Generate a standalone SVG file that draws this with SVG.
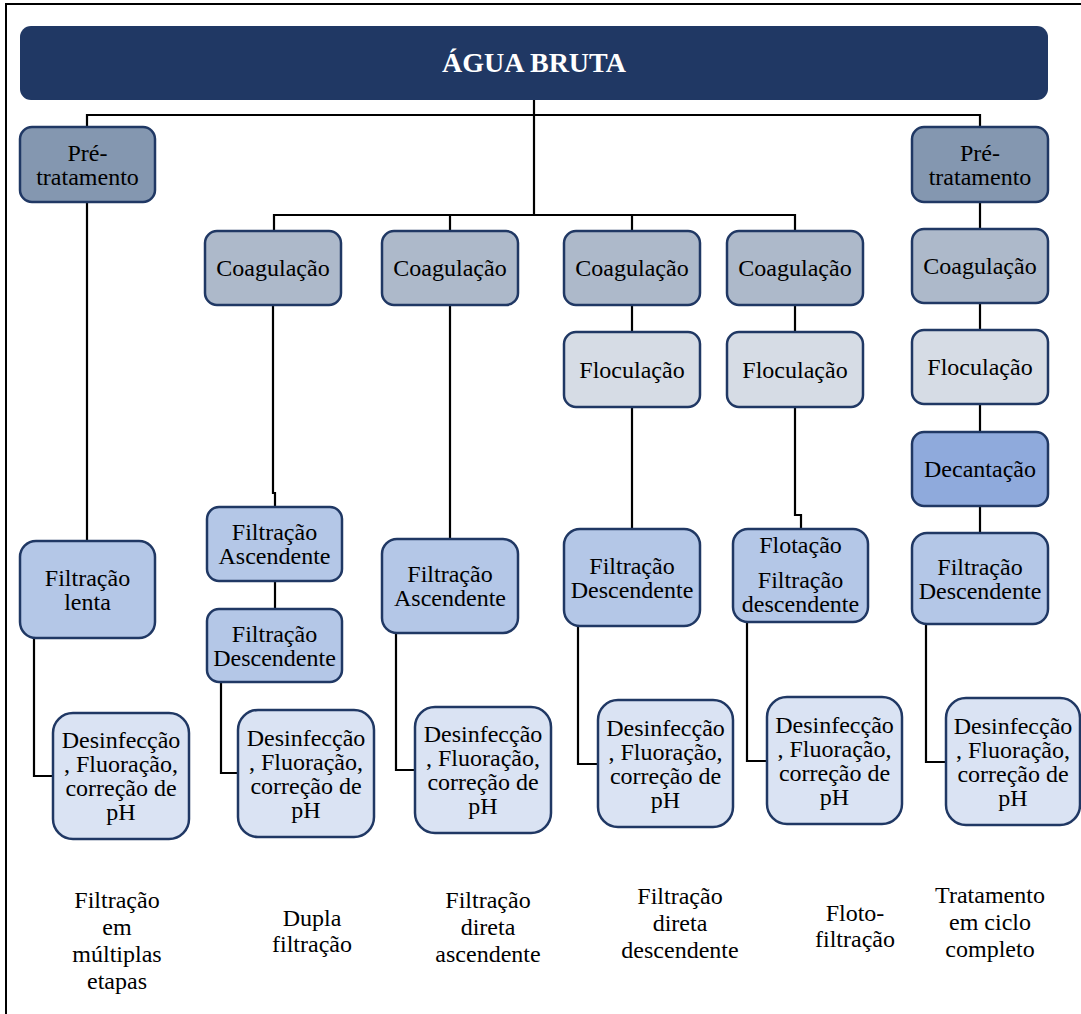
<svg xmlns="http://www.w3.org/2000/svg" width="1081" height="1014" viewBox="0 0 1081 1014" font-family="Liberation Serif, Times New Roman, serif">
<style>
text{font-size:24px;fill:#000;text-anchor:middle}
.t{font-size:28px;font-weight:bold;fill:#fff}
.b{stroke:#203864;stroke-width:2.5}
.pre{fill:#8497b0}.coag{fill:#adb9ca}.floc{fill:#d6dce5}.filt{fill:#b4c7e7}.des{fill:#dae3f3}.dec{fill:#8faadc}
.c path{fill:none;stroke:#000;stroke-width:2.2}
</style>
<rect width="1081" height="1014" fill="#fff"/>
<g id="frame"><path d="M6,1014 V4 H1081" fill="none" stroke="#000" stroke-width="2"/></g>
<g class="c" id="connectors">
<path d="M534,100 V215"/>
<path d="M87,127 V115 H980 V127"/>
<path d="M274,231 V215 H795 V231"/>
<path d="M450,215 V231"/><path d="M632,215 V231"/>
<path d="M87,202 V541"/>
<path d="M34,638 V776 H53"/>
<path d="M273,305 V493 H275 V507"/>
<path d="M275,581 V609"/>
<path d="M221,682 V773 H238"/>
<path d="M450,305 V539"/>
<path d="M396,633 V770 H415"/>
<path d="M632,305 V332"/><path d="M632,407 V529"/>
<path d="M578,626 V764 H598"/>
<path d="M795,305 V332"/><path d="M795,407 V515 H801 V529"/>
<path d="M747,622 V761 H767"/>
<path d="M980,202 V229"/><path d="M980,303 V330"/><path d="M980,404 V432"/><path d="M980,506 V533"/>
<path d="M926,624 V762 H946"/>
</g>
<g id="agua"><rect x="20" y="26" width="1028" height="74" rx="11" fill="#203864"/><text class="t" x="534" y="72">ÁGUA BRUTA</text></g>
<g id="pre1"><rect class="b pre" x="20" y="127" width="135" height="75" rx="12"/><text x="87.5" y="161">Pré-</text><text x="87.5" y="185">tratamento</text></g>
<g id="pre2"><rect class="b pre" x="912" y="127" width="136" height="75" rx="12"/><text x="980" y="161">Pré-</text><text x="980" y="185">tratamento</text></g>
<g id="coag1"><rect class="b coag" x="205" y="231" width="136" height="74" rx="12"/><text x="273" y="276">Coagulação</text></g>
<g id="coag2"><rect class="b coag" x="382" y="231" width="136" height="74" rx="12"/><text x="450" y="276">Coagulação</text></g>
<g id="coag3"><rect class="b coag" x="564" y="231" width="136" height="74" rx="12"/><text x="632" y="276">Coagulação</text></g>
<g id="coag4"><rect class="b coag" x="727" y="231" width="136" height="74" rx="12"/><text x="795" y="276">Coagulação</text></g>
<g id="coag5"><rect class="b coag" x="912" y="229" width="136" height="74" rx="12"/><text x="980" y="274">Coagulação</text></g>
<g id="floc1"><rect class="b floc" x="564" y="332" width="136" height="75" rx="12"/><text x="632" y="377.5">Floculação</text></g>
<g id="floc2"><rect class="b floc" x="727" y="332" width="136" height="75" rx="12"/><text x="795" y="377.5">Floculação</text></g>
<g id="floc3"><rect class="b floc" x="912" y="330" width="136" height="74" rx="12"/><text x="980" y="375">Floculação</text></g>
<g id="decant"><rect class="b dec" x="912" y="432" width="136" height="74" rx="12"/><text x="980" y="477">Decantação</text></g>
<g id="filtLenta"><rect class="b filt" x="20" y="541" width="135" height="97" rx="16"/><text x="87.5" y="585.5">Filtração</text><text x="87.5" y="609.5">lenta</text></g>
<g id="filtAsc1"><rect class="b filt" x="207" y="507" width="135" height="74" rx="12"/><text x="274.5" y="540">Filtração</text><text x="274.5" y="564">Ascendente</text></g>
<g id="filtDesc1"><rect class="b filt" x="207" y="609" width="135" height="73" rx="12"/><text x="274.5" y="641.5">Filtração</text><text x="274.5" y="665.5">Descendente</text></g>
<g id="filtAsc2"><rect class="b filt" x="382" y="539" width="136" height="94" rx="15"/><text x="450" y="582">Filtração</text><text x="450" y="606">Ascendente</text></g>
<g id="filtDesc2"><rect class="b filt" x="564" y="529" width="136" height="97" rx="16"/><text x="632" y="573.5">Filtração</text><text x="632" y="597.5">Descendente</text></g>
<g id="flot"><rect class="b filt" x="733" y="529" width="135" height="93" rx="15"/><text x="800.5" y="553">Flotação</text><text x="800.5" y="588">Filtração</text><text x="800.5" y="612">descendente</text></g>
<g id="filtDesc3"><rect class="b filt" x="912" y="533" width="136" height="91" rx="15"/><text x="980" y="574.5">Filtração</text><text x="980" y="598.5">Descendente</text></g>
<g id="des1"><rect class="b des" x="53" y="713" width="136" height="126" rx="20"/><text x="121" y="748">Desinfecção</text><text x="121" y="772">, Fluoração,</text><text x="121" y="796">correção de</text><text x="121" y="820">pH</text></g>
<g id="des2"><rect class="b des" x="238" y="710" width="136" height="127" rx="20"/><text x="306" y="745.5">Desinfecção</text><text x="306" y="769.5">, Fluoração,</text><text x="306" y="793.5">correção de</text><text x="306" y="817.5">pH</text></g>
<g id="des3"><rect class="b des" x="415" y="707" width="136" height="126" rx="20"/><text x="483" y="742">Desinfecção</text><text x="483" y="766">, Fluoração,</text><text x="483" y="790">correção de</text><text x="483" y="814">pH</text></g>
<g id="des4"><rect class="b des" x="598" y="700" width="135" height="127" rx="20"/><text x="665.5" y="735.5">Desinfecção</text><text x="665.5" y="759.5">, Fluoração,</text><text x="665.5" y="783.5">correção de</text><text x="665.5" y="807.5">pH</text></g>
<g id="des5"><rect class="b des" x="767" y="697" width="135" height="127" rx="20"/><text x="834.5" y="732.5">Desinfecção</text><text x="834.5" y="756.5">, Fluoração,</text><text x="834.5" y="780.5">correção de</text><text x="834.5" y="804.5">pH</text></g>
<g id="des6"><rect class="b des" x="946" y="698" width="134" height="127" rx="20"/><text x="1013" y="733.5">Desinfecção</text><text x="1013" y="757.5">, Fluoração,</text><text x="1013" y="781.5">correção de</text><text x="1013" y="805.5">pH</text></g>
<g id="labels">
<text x="117" y="908">Filtração</text><text x="117" y="935">em</text><text x="117" y="962">múltiplas</text><text x="117" y="989">etapas</text>
<text x="312" y="926">Dupla</text><text x="312" y="952">filtração</text>
<text x="488" y="908">Filtração</text><text x="488" y="935">direta</text><text x="488" y="962">ascendente</text>
<text x="680" y="904">Filtração</text><text x="680" y="931">direta</text><text x="680" y="958">descendente</text>
<text x="855" y="921">Floto-</text><text x="855" y="947">filtração</text>
<text x="990" y="903">Tratamento</text><text x="990" y="930">em ciclo</text><text x="990" y="957">completo</text>
</g>
</svg>
